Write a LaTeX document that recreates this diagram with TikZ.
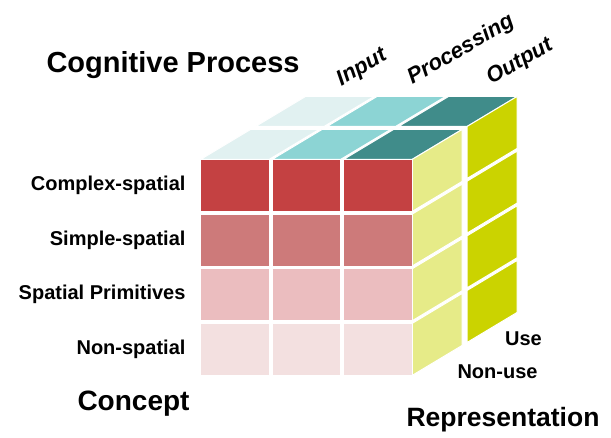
\documentclass[tikz,border=0pt]{standalone}
\usepackage{fontspec}
\setmainfont{Liberation Sans}
\definecolor{rowA}{HTML}{C44142}
\definecolor{rowB}{HTML}{CD7A7A}
\definecolor{rowC}{HTML}{EBBDBF}
\definecolor{rowD}{HTML}{F3E0E0}
\definecolor{topA}{HTML}{E1F1F1}
\definecolor{topB}{HTML}{8CD4D4}
\definecolor{topC}{HTML}{408C8A}
\definecolor{sideA}{HTML}{E6EB88}
\definecolor{sideB}{HTML}{CBD300}
\begin{document}
\begin{tikzpicture}[x=1pt,y=-1pt,z={(50pt,30pt)},
  cell/.style={draw=white,line width=1pt},
  head/.style={font=\fontsize{28}{32}\selectfont\bfseries},
  lab/.style={font=\fontsize{20}{24}\selectfont\bfseries},
  axis/.style={font=\fontsize{22}{24}\selectfont\bfseries\itshape,rotate=30}]
\useasboundingbox (0,0) rectangle (611,438);
% Top face
\foreach \c/\tc in {0/topA,1/topB,2/topC}
  \foreach \k in {0,1}
    \path[cell,fill=\tc] ({200.5+71.5*\c},159.5,{1.1*\k}) -- ++(68.5,0,0) -- ++(0,0,1) -- ++(-68.5,0,0) -- cycle;
% Right face
\foreach \r in {0,...,3}
  \foreach \k/\sc in {0/sideA,1/sideB}
    \path[cell,fill=\sc] (412,{159.5+54.67*\r},{1.1*\k}) -- ++(0,52,0) -- ++(0,0,1) -- ++(0,-52,0) -- cycle;
% Front face
\foreach \r/\fc in {0/rowA,1/rowB,2/rowC,3/rowD}
  \foreach \c in {0,1,2}
    \path[cell,fill=\fc] ({200.5+71.5*\c},{159.5+54.67*\r},0) rectangle ++(68.5,52,0);
% Axis titles
\node[head,font=\fontsize{29}{32}\selectfont\bfseries,anchor=base west] (cog) at (43,73) {Cognitive Process};
\node[head,anchor=base west] (concept) at (74,411) {Concept};
\node[head,font=\fontsize{26.5}{30}\selectfont\bfseries,anchor=base east] (repr) at (603,427) {Representation};
% Process labels
\node[axis] (inp) at (362,68) {Input};
\node[axis] (proc) at (461,50) {Processing};
\node[axis] (outp) at (520,62) {Output};
% Concept labels
\node[lab,anchor=east] (cspat) at (189,185.5) {Complex-spatial};
\node[lab,anchor=east] (sspat) at (189,240) {Simple-spatial};
\node[lab,anchor=east] (sprim) at (189,294.5) {Spatial Primitives};
\node[lab,anchor=east] (nspat) at (189,349) {Non-spatial};
% Representation labels
\node[lab] (use) at (523.5,339) {Use};
\node[lab] (nonuse) at (497.5,372) {Non-use};
\end{tikzpicture}
\end{document}
